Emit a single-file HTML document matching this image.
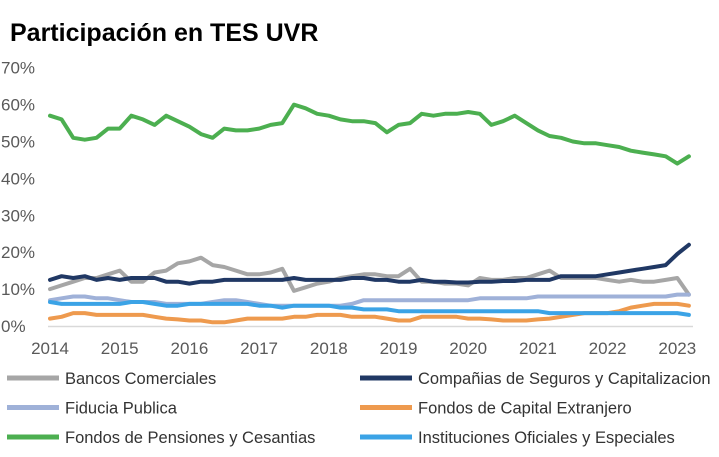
<!DOCTYPE html>
<html><head><meta charset="utf-8"><style>
body{margin:0;background:#fff;width:719px;height:452px;overflow:hidden;font-family:"Liberation Sans",Arial,sans-serif}
</style></head><body>
<svg width="719" height="452" xmlns="http://www.w3.org/2000/svg">
<text x="10" y="41" font-size="25" font-weight="bold" fill="#000">Participación en TES UVR</text>
<g id="yaxis"></g><g id="xaxis"></g><g id="plot"></g><g id="legend"></g>
</svg>
<script>
const yTicks=[0,10,20,30,40,50,60,70];
const xTicks=[2014,2015,2016,2017,2018,2019,2020,2021,2022,2023];
const seriesNames=["Bancos Comerciales","Compañias de Seguros y Capitalizacion","Fiducia Publica","Fondos de Capital Extranjero","Fondos de Pensiones y Cesantias","Instituciones Oficiales y Especiales"];
const bancos=[10,11,12,13,13,14,15,12,12,14.5,15,17,17.5,18.5,16.5,16,15,14,14,14.5,15.5,9.5,10.5,11.5,12,13,13.5,14,14,13.5,13.5,15.5,12,12,11.5,11.5,11,13,12.5,12.5,13,13,14,15,13,13,13,13,12.5,12,12.5,12,12,12.5,13,8.5];
const seguros=[12.5,13.5,13,13.5,12.5,13,12.5,13,13,13,12,12,11.5,12,12,12.5,12.5,12.5,12.5,12.5,12.5,13,12.5,12.5,12.5,12.5,13,13,12.5,12.5,12,12,12.5,12,12,11.8,11.8,12,12,12.2,12.2,12.5,12.5,12.5,13.5,13.5,13.5,13.5,14,14.5,15,15.5,16,16.5,19.5,22];
const fiducia=[7,7.5,8,8,7.5,7.5,7,6.5,6.5,6.5,6,6,6,6,6.5,7,7,6.5,6,5.5,5.5,5.5,5.5,5.5,5.5,5.5,6,7,7,7,7,7,7,7,7,7,7,7.5,7.5,7.5,7.5,7.5,8,8,8,8,8,8,8,8,8,8,8,8,8.5,8.5];
const capital=[2,2.5,3.5,3.5,3,3,3,3,3,2.5,2,1.8,1.5,1.5,1,1,1.5,2,2,2,2,2.5,2.5,3,3,3,2.5,2.5,2.5,2,1.5,1.5,2.5,2.5,2.5,2.5,2,2,1.8,1.5,1.5,1.5,1.8,2,2.5,3,3.5,3.5,3.5,4,5,5.5,6,6,6,5.5];
const pensiones=[57,56,51,50.5,51,53.5,53.5,57,56,54.5,57,55.5,54,52,51,53.5,53,53,53.5,54.5,55,60,59,57.5,57,56,55.5,55.5,55,52.5,54.5,55,57.5,57,57.5,57.5,58,57.5,54.5,55.5,57,55,53,51.5,51,50,49.5,49.5,49,48.5,47.5,47,46.5,46,44,46];
const oficiales=[6.5,6,6,6,6,6,6,6.5,6.5,6,5.5,5.5,6,6,6,6,6,6,5.5,5.5,5,5.5,5.5,5.5,5.5,5,5,4.5,4.5,4.5,4,4,4,4,4,4,4,4,4,4,4,4,4,3.5,3.5,3.5,3.5,3.5,3.5,3.5,3.5,3.5,3.5,3.5,3.5,3];
const startYear=2014, stepYear=1/6;
const NS="http://www.w3.org/2000/svg";
const x=t=>50+(t-2014)*69.7;
const y=v=>326-v*3.69;
function mk(tag,attrs,parent){const e=document.createElementNS(NS,tag);for(const k in attrs)e.setAttribute(k,attrs[k]);parent.appendChild(e);return e;}
const ya=document.getElementById('yaxis');
yTicks.forEach(v=>{const t=mk('text',{x:1,y:y(v)+6,'font-size':17,fill:'#595959'},ya);t.textContent=v+'%';

});
const xa=document.getElementById('xaxis');
const ax=mk('line',{x1:48,x2:693,y1:326.5,y2:326.5,stroke:'#d9d9d9','stroke-width':1.5},xa);


xTicks.forEach(v=>{const t=mk('text',{x:x(v),y:354,'font-size':17,fill:'#595959','text-anchor':'middle'},xa);t.textContent=v;

});
const colors=['#a6a6a6','#203864','#9fb1d8','#ee9a4e','#4caf50','#3ba3e6'];
const data=[bancos,seguros,fiducia,capital,pensiones,oficiales];
const order=[0,2,3,5,1,4];
const plot=document.getElementById('plot');
order.forEach(i=>{const d=data[i].map((v,k)=>(k?'L':'M')+x(startYear+k*stepYear).toFixed(1)+','+y(v).toFixed(1)).join('');
const p=mk('path',{d:d,fill:'none',stroke:colors[i],'stroke-width':4,'stroke-linejoin':'round','stroke-linecap':'round'},plot);

});
const lg=document.getElementById('legend');
seriesNames.forEach((n,i)=>{const col=i%2,row=Math.floor(i/2);const lx=col?360:7,ly=378+row*29.5;
const g=mk('g',{},lg);


mk('line',{x1:lx,x2:lx+52,y1:ly,y2:ly,stroke:colors[i],'stroke-width':5},g);
const t=mk('text',{x:lx+58,y:ly+6,'font-size':16.5,fill:'#333'},g);t.textContent=n;});
</script>
</body></html>
